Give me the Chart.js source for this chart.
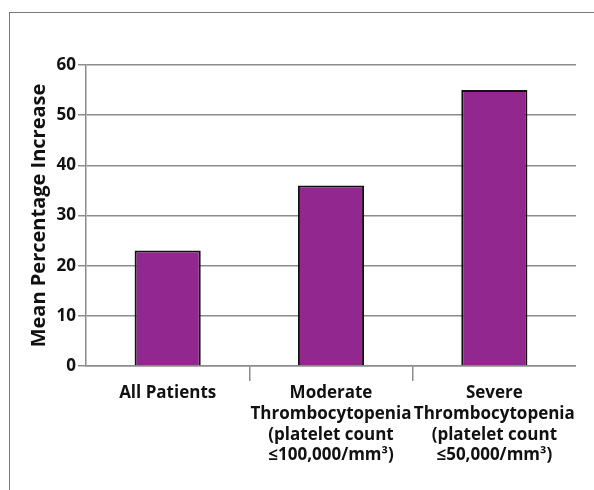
<!DOCTYPE html>
<html>
<head>
<meta charset="utf-8">
<script src="https://cdn.jsdelivr.net/npm/chart.js@4/dist/chart.umd.min.js"></script>
<style>
  html, body { margin: 0; padding: 0; background: #fff; }
  #wrap { position: relative; width: 594px; height: 490px; }
  #frame { position: absolute; left: 9px; top: 12px; right: 0; bottom: 0;
           border-top: 1.5px solid #7a7a7a; border-left: 1.5px solid #7a7a7a; }
  canvas { position: absolute; left: 0; top: 0; }
</style>
</head>
<body>
<div id="wrap">
  <div id="frame"></div>
  <canvas id="c" width="594" height="490"></canvas>
</div>
<script>
const categories = [
  ["All Patients"],
  ["Moderate", "Thrombocytopenia", "(platelet count", "≤100,000/mm³)"],
  ["Severe", "Thrombocytopenia", "(platelet count", "≤50,000/mm³)"]
];
const meanIncrease = [23, 36, 55];
const yTicks = [0, 10, 20, 30, 40, 50, 60];
const yTitle = "Mean Percentage Increase";

const FONT = "'Open Sans', 'Liberation Sans', sans-serif";
const GRID = "#8c8c8c";
const isDivider = ctx => ctx.type === 'tick' && ctx.index > 0 && ctx.index < categories.length;

new Chart(document.getElementById('c'), {
  type: 'bar',
  data: {
    labels: categories,
    datasets: [{
      data: meanIncrease,
      backgroundColor: '#92278f',
      borderColor: '#111111',
      borderWidth: 2,
      barPercentage: 0.405,
      categoryPercentage: 1.0
    }]
  },
  options: {
    responsive: false,
    animation: false,
    devicePixelRatio: 1,
    layout: { padding: { left: 28, top: 65, right: 18, bottom: 0 } },
    plugins: { legend: { display: false }, tooltip: { enabled: false } },
    scales: {
      x: {
        afterFit: s => { s.height = 124; },
        border: { display: true, color: GRID, width: 1.5 },
        grid: {
          offset: true,
          drawOnChartArea: false,
          drawTicks: true,
          tickLength: 15,
          lineWidth: ctx => isDivider(ctx) ? 1.5 : 0,
          color: ctx => isDivider(ctx) ? GRID : 'rgba(0,0,0,0)'
        },
        ticks: {
          color: '#111',
          padding: 2,
          maxRotation: 0,
          autoSkip: false,
          font: { family: FONT, size: 17, weight: 'bold', lineHeight: 1.22 }
        }
      },
      y: {
        min: 0, max: 60,
        afterFit: s => { s.width = 58; },
        afterBuildTicks: s => { s.ticks = yTicks.map(v => ({ value: v })); },
        border: { display: true, color: GRID, width: 1.5 },
        grid: { color: GRID, lineWidth: 1.5, drawTicks: true, tickLength: 8 },
        ticks: {
          color: '#111',
          padding: 2,
          font: { family: FONT, size: 17, weight: 'bold' }
        },
        title: {
          display: true,
          text: yTitle,
          color: '#111',
          padding: 0,
          font: { family: FONT, size: 20, weight: 'bold', lineHeight: 1.15 }
        }
      }
    }
  }
});
</script>
</body>
</html>
